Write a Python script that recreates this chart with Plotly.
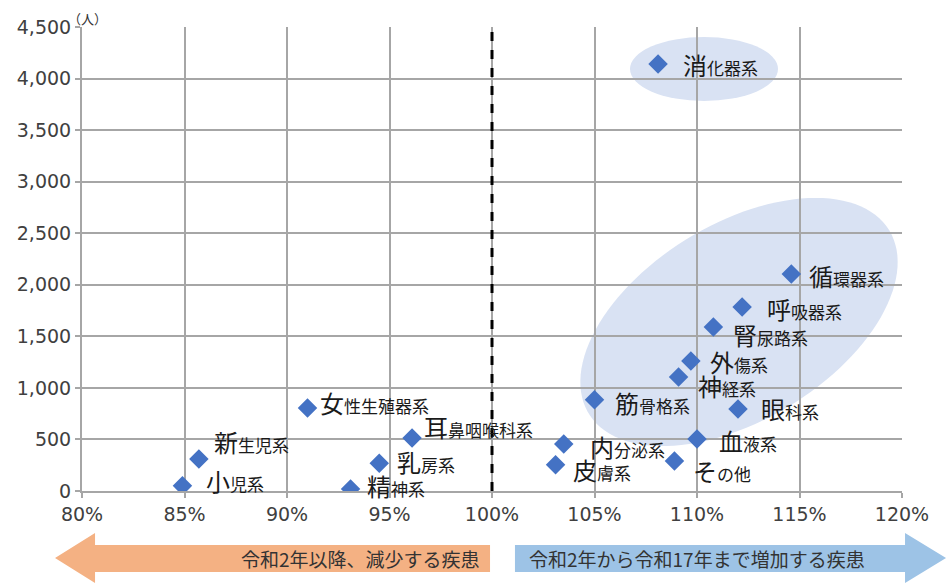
import numpy as np
import plotly.graph_objects as go

# ---- data ----
categories = ["消化器系", "循環器系", "呼吸器系", "腎尿路系", "外傷系", "神経系", "眼科系",
              "筋骨格系", "血液系", "内分泌系", "皮膚系", "その他",
              "女性生殖器系", "耳鼻咽喉科系", "乳房系", "精神系", "新生児系", "小児系"]
growth_ratio = [1.081, 1.146, 1.122, 1.108, 1.097, 1.091, 1.120,
                1.050, 1.100, 1.035, 1.031, 1.089,
                0.910, 0.961, 0.945, 0.931, 0.857, 0.849]
patients = [4140, 2105, 1785, 1590, 1260, 1105, 795,
            885, 505, 455, 255, 290,
            805, 515, 270, 20, 310, 50]
x_ticks = [0.80, 0.85, 0.90, 0.95, 1.00, 1.05, 1.10, 1.15, 1.20]
y_ticks = [0, 500, 1000, 1500, 2000, 2500, 3000, 3500, 4000, 4500]
arrow_left_text = "令和2年以降、減少する疾患"
arrow_right_text = "令和2年から令和17年まで増加する疾患"

# label offsets (pixels: dx right, dy down) - layout only
label_offsets = {
    "消化器系": (23, 0), "循環器系": (16, 2), "呼吸器系": (23, 2), "腎尿路系": (18, 7),
    "外傷系": (17, 0), "神経系": (17, 8), "眼科系": (21, -1), "筋骨格系": (18, 3),
    "血液系": (20, 2), "内分泌系": (24, 2), "皮膚系": (15, 5), "その他": (17, 9),
    "女性生殖器系": (10, -6), "耳鼻咽喉科系": (10, -11), "乳房系": (16, -2),
    "精神系": (14, -3), "新生児系": (13, -18), "小児系": (22, -5),
}

FONT = "Noto Sans CJK JP"
TICKFONT = "DejaVu Sans"
W, H = 948, 583
ML, MR, MT, MB = 82, 46, 27, 92
pw, ph = W - ML - MR, H - MT - MB
xr, yr = (0.8, 1.2), (0, 4500)
px_per_x = pw / (xr[1] - xr[0])
px_per_y = ph / (yr[1] - yr[0])

fig = go.Figure()

fig.add_trace(go.Scatter(
    x=growth_ratio, y=patients, mode="markers",
    marker=dict(symbol="diamond", size=15, color="#4472C4"),
    hoverinfo="text", text=categories, showlegend=False,
))

# labels: first char big, rest small
annotations = []
for cat, gx, py in zip(categories, growth_ratio, patients):
    dx, dy = label_offsets[cat]
    txt = f"<span style='font-size:24px'>{cat[0]}</span>{cat[1:]}"
    annotations.append(dict(x=gx, y=py, xref="x", yref="y", text=txt, showarrow=False,
                            xanchor="left", yanchor="middle", xshift=dx, yshift=-dy,
                            font=dict(family=FONT, size=17, color="#1a1a1a")))

annotations.append(dict(x=0, y=1, xref="paper", yref="paper", text="（人）", showarrow=False,
                        xanchor="left", yanchor="bottom", xshift=-16, yshift=-3,
                        font=dict(family=FONT, size=13, color="#333333")))

# ellipses
shapes = []
cxp, cyp, rxp, ryp = 704, 69, 74, 32
cx = xr[0] + (cxp - ML) / px_per_x
cy = (H - MB - cyp) / px_per_y
shapes.append(dict(type="circle", xref="x", yref="y",
                   x0=cx - rxp / px_per_x, x1=cx + rxp / px_per_x,
                   y0=cy - ryp / px_per_y, y1=cy + ryp / px_per_y,
                   fillcolor="#D9E2F3", line=dict(width=0), layer="below"))
ecx, ecy, ea, eb, eth = 739, 322, 176, 98, np.deg2rad(31.4)
t = np.linspace(0, 2 * np.pi, 120)
ox = ea * np.cos(eth) * np.cos(t) - eb * np.sin(eth) * np.sin(t)
oy = ea * np.sin(eth) * np.cos(t) + eb * np.cos(eth) * np.sin(t)
ex = xr[0] + (ecx - ML + ox) / px_per_x
ey = (H - MB - ecy + oy) / px_per_y
path = "M " + " L ".join(f"{a:.5f},{b:.2f}" for a, b in zip(ex, ey)) + " Z"
shapes.append(dict(type="path", xref="x", yref="y", path=path,
                   fillcolor="#D9E2F3", line=dict(width=0), layer="below"))

# dashed 100% line
shapes.append(dict(type="line", xref="x", yref="paper", x0=1.0, x1=1.0, y0=0, y1=1,
                   line=dict(color="black", width=3, dash="dash"), layer="above"))

# bottom arrows (paper coords from pixel layout)
def P(px, py):
    return f"{(px - ML) / pw:.4f},{(H - MB - py) / ph:.4f}"

left_arrow = [(55, 558), (95, 533), (95, 545), (490, 545), (490, 572), (95, 572), (95, 583)]
right_arrow = [(515, 545), (905, 545), (905, 533), (946, 558), (905, 583), (905, 572), (515, 572)]
for pts, col in [(left_arrow, "#F4B183"), (right_arrow, "#9DC3E6")]:
    shapes.append(dict(type="path", xref="paper", yref="paper",
                       path="M " + " L ".join(P(*p) for p in pts) + " Z",
                       fillcolor=col, line=dict(width=0), layer="above"))

annotations.append(dict(x=(482 - ML) / pw, y=(H - MB - 558) / ph, xref="paper", yref="paper",
                        text=arrow_left_text, showarrow=False, xanchor="right", yanchor="middle",
                        font=dict(family=FONT, size=19, color="#333333")))
annotations.append(dict(x=(527 - ML) / pw, y=(H - MB - 558) / ph, xref="paper", yref="paper",
                        text=arrow_right_text, showarrow=False, xanchor="left", yanchor="middle",
                        font=dict(family=FONT, size=19, color="#333333")))

grid_col = "#A6A6A6"
fig.update_layout(
    width=W, height=H,
    margin=dict(l=ML, r=MR, t=MT, b=MB, pad=0),
    paper_bgcolor="white", plot_bgcolor="white",
    shapes=shapes, annotations=annotations,
    xaxis=dict(range=list(xr), tickvals=x_ticks, tickformat=".0%",
               showgrid=True, gridcolor=grid_col, gridwidth=2,
               showline=True, linecolor=grid_col, linewidth=2, mirror=False,
               ticks="outside", ticklen=5, tickcolor=grid_col, tickwidth=2,
               tickfont=dict(family=TICKFONT, size=19, color="#404040"), zeroline=False),
    yaxis=dict(range=list(yr), tickvals=y_ticks, tickformat=",",
               showgrid=True, gridcolor=grid_col, gridwidth=2,
               showline=True, linecolor=grid_col, linewidth=2,
               ticks="outside", ticklen=5, tickcolor=grid_col, tickwidth=2,
               tickfont=dict(family=TICKFONT, size=19, color="#404040"), zeroline=False),
    font=dict(family=FONT),
)

fig.write_html("out.html", config={"displayModeBar": False},
               post_script="document.body.style.margin='0px';document.body.style.overflow='hidden';")
